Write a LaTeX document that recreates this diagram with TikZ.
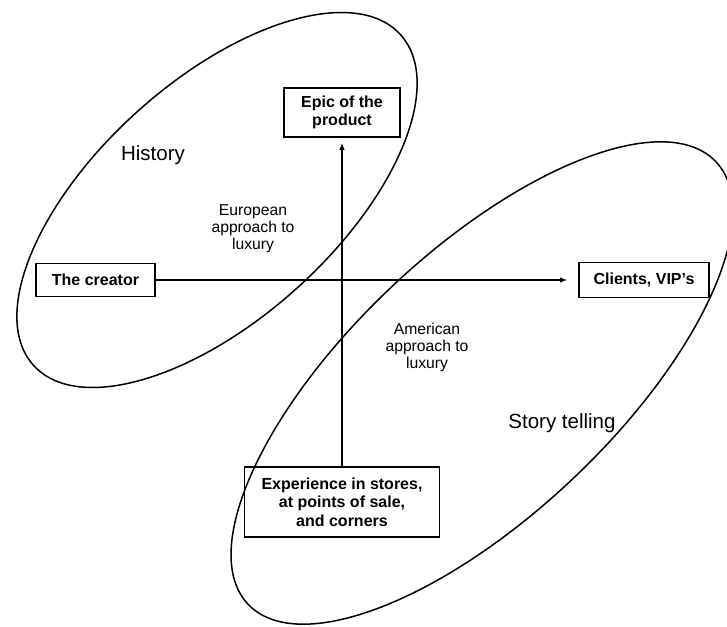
\documentclass[tikz,border=0pt]{standalone}
\usepackage{fontspec}
\setmainfont{Liberation Sans}
\usetikzlibrary{positioning}
\usetikzlibrary{arrows.meta}

\begin{document}
\begin{tikzpicture}[
	box/.style = { draw, black, line width = 1.6pt, inner sep = 0pt, align = center, font = \bfseries\fontsize{16}{18.5}\selectfont },
	tag/.style = { align = center, inner sep = 0pt, font = \fontsize{15.7}{17}\selectfont },
	title/.style = { inner sep = 0pt, font = \fontsize{20.5}{24}\selectfont },
	arrow/.style = { line width = 1.5pt, -{Latex[length=7pt,width=5.5pt]} },
	zone/.style = { line width = 1.5pt },
	]
	\def\oneUnit{1pt}
	\useasboundingbox (0,0) rectangle (727*\oneUnit,-626*\oneUnit);
	
	\draw[zone, rotate around={42:(217*\oneUnit,-200*\oneUnit)}] (217*\oneUnit,-200*\oneUnit) ellipse [x radius = 247*\oneUnit, y radius = 119*\oneUnit];
	\draw[zone, rotate around={43.4:(482*\oneUnit,-383*\oneUnit)}] (482*\oneUnit,-383*\oneUnit) ellipse [x radius = 322*\oneUnit, y radius = 132*\oneUnit];
	
	\node[box, minimum width = 116*\oneUnit, minimum height = 49*\oneUnit] (EPIC) at (342*\oneUnit,-112.5*\oneUnit) {Epic of the\\product};
	\node[box, minimum width = 119*\oneUnit, minimum height = 33*\oneUnit] (CREATOR) at (95.5*\oneUnit,-280*\oneUnit) {The creator};
	\node[box, minimum width = 130*\oneUnit, minimum height = 35*\oneUnit] (CLIENTS) at (644*\oneUnit,-280*\oneUnit) {Clients, VIP's};
	\node[box, minimum width = 195*\oneUnit, minimum height = 70*\oneUnit] (STORES) at (342*\oneUnit,-502*\oneUnit) {Experience in stores,\\at points of sale,\\and corners};
	
	\node[title] (HISTORY) at (153*\oneUnit,-155*\oneUnit) {History};
	\node[title] (STORY) at (562*\oneUnit,-423*\oneUnit) {Story telling};
	\node[tag] (EUROPE) at (253*\oneUnit,-229*\oneUnit) {European\\approach to\\luxury};
	\node[tag] (AMERICA) at (427*\oneUnit,-347*\oneUnit) {American\\approach to\\luxury};
	
	\path[arrow, shorten >= 11*\oneUnit] (CREATOR) edge [] (CLIENTS);
	\path[arrow, shorten >= 5*\oneUnit] (STORES) edge [] (EPIC);
	
\end{tikzpicture}
\end{document}
